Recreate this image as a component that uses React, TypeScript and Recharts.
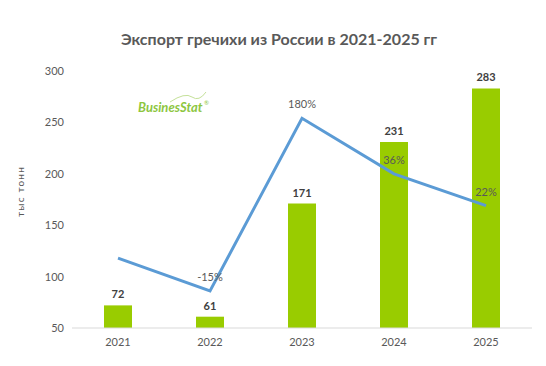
import React from "react";
import {
  ComposedChart,
  Bar,
  Line,
  XAxis,
  YAxis,
  LabelList
} from "recharts";

const years = ["2021", "2022", "2023", "2024", "2025"];
const exportVolume = [72, 61, 171, 231, 283];
const growthLine = [118, 86, 254, 200, 169];
const growthLabels = ["", "-15%", "180%", "36%", "22%"];
const yTicks = [50, 100, 150, 200, 250, 300];

const data = years.map((year, i) => ({
  year,
  volume: exportVolume[i],
  growth: growthLine[i],
  growthLabel: growthLabels[i]
}));

const font = "Lato, 'Open Sans', sans-serif";

export default function App() {
  return (
    <div style={{ position: "absolute", left: 0, top: 0, width: 546, height: 366, background: "#fff", fontFamily: font }}>
      <div
        style={{
          position: "absolute",
          top: 29,
          left: 0,
          width: 558,
          textAlign: "center",
          fontSize: 16,
          fontWeight: 700,
          color: "#595959"
        }}
      >
        Экспорт гречихи из России в 2021-2025 гг
      </div>
      <svg style={{ position: "absolute", left: 130, top: 88 }} width={90} height={30}>
        <path d="M 40 14 Q 55 4 62 9 T 76 4" fill="none" stroke="#c5e19a" strokeWidth={1} />
        <text x={8} y={24} fontSize={13} fontWeight={700} fontStyle="italic" fill="#8dc63f" fontFamily={font}>
          BusinesStat
        </text>
        <text x={74} y={17} fontSize={6} fill="#8dc63f">®</text>
      </svg>
      <ComposedChart
        width={546}
        height={366}
        data={data}
        margin={{ top: 71, right: 14, bottom: 8, left: 0 }}
        style={{ position: "absolute", left: 0, top: 0 }}
      >
        <XAxis
          dataKey="year"
          height={30}
          tickLine={false}
          axisLine={{ stroke: "#d9d9d9" }}
          tick={{ fill: "#595959", fontSize: 11, fontFamily: font }}
          tickMargin={4}
        />
        <YAxis
          yAxisId="left"
          domain={[50, 300]}
          ticks={yTicks}
          width={72}
          axisLine={false}
          tickLine={false}
          allowDataOverflow
          tick={{ fill: "#595959", fontSize: 11, fontFamily: font }}
          label={{
            value: "тыс тонн",
            angle: -90,
            position: "insideLeft",
            offset: 20,
            dy: -8,
            style: { fill: "#595959", fontSize: 10, fontFamily: font, letterSpacing: 1.2, textAnchor: "middle" }
          }}
        />
        <YAxis yAxisId="right" orientation="right" domain={[50, 300]} hide />
        <Bar yAxisId="left" dataKey="volume" fill="#99cc00" barSize={28} isAnimationActive={false}>
          <LabelList
            dataKey="volume"
            position="top"
            offset={7}
            style={{ fill: "#404040", fontSize: 11, fontWeight: 700, fontFamily: font }}
          />
        </Bar>
        <Line
          yAxisId="right"
          type="linear"
          dataKey="growth"
          stroke="#5b9bd5"
          strokeWidth={3}
          dot={false}
          isAnimationActive={false}
        >
          <LabelList
            dataKey="growthLabel"
            position="top"
            offset={10}
            style={{ fill: "#595959", fontSize: 11, fontFamily: font }}
          />
        </Line>
      </ComposedChart>
    </div>
  );
}
